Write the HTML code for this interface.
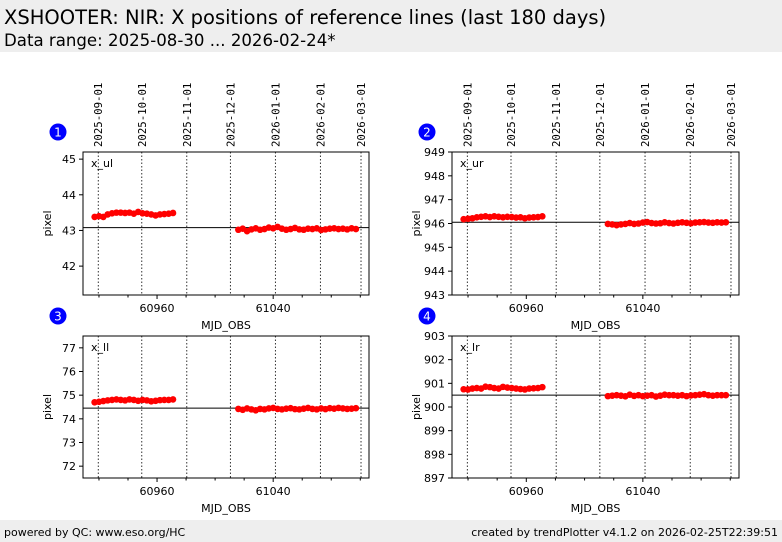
<!DOCTYPE html>
<html><head><meta charset="utf-8"><style>
body{margin:0;width:782px;height:542px;background:#fff;font-family:"DejaVu Sans","Liberation Sans",sans-serif;overflow:hidden;position:relative}
#hdr{position:absolute;left:0;top:0;width:782px;height:52px;background:#eeeeee}
#t1{position:absolute;left:4px;top:6px;font-size:19.5px;color:#000}
#t2{position:absolute;left:4px;top:31px;font-size:16.6px;color:#000}
#ftr{position:absolute;left:0;top:520px;width:782px;height:22px;background:#eeeeee;font-size:11px}
#fl{position:absolute;left:4px;top:6px}#fr{position:absolute;right:4px;top:6px}
svg{position:absolute;left:0;top:0}
</style></head><body>
<div id="hdr"><div id="t1">XSHOOTER: NIR: X positions of reference lines (last 180 days)</div><div id="t2">Data range: 2025-08-30 ... 2026-02-24*</div></div>
<div id="ftr"><span id="fl">powered by QC: www.eso.org/HC</span><span id="fr">created by trendPlotter v4.1.2 on 2026-02-25T22:39:51</span></div>
<svg id="chart" width="782" height="542" xmlns="http://www.w3.org/2000/svg"></svg>
<script>
const mjd1=[60917,60920,60923,60926,60929,60932,60935,60938,60941,60944,60947,60950,60953,60956,60959,60962,60965,60968,60971];
const mjd2=[61016,61019,61022,61025,61028,61031,61034,61037,61040,61043,61046,61049,61052,61055,61058,61061,61064,61067,61070,61073,61076,61079,61082,61085,61088,61091,61094,61097];
const ul1=[43.38,43.4,43.38,43.45,43.48,43.5,43.5,43.49,43.5,43.47,43.52,43.48,43.47,43.45,43.42,43.45,43.46,43.47,43.49];
const ul2=[43.02,43.05,42.98,43.03,43.06,43.02,43.04,43.08,43.06,43.1,43.05,43.02,43.04,43.07,43.03,43.02,43.05,43.04,43.06,43.01,43.03,43.05,43.06,43.04,43.05,43.03,43.06,43.04];
const ur1=[946.18,946.2,946.22,946.26,946.28,946.3,946.27,946.3,946.28,946.26,946.28,946.27,946.25,946.26,946.22,946.25,946.26,946.27,946.3];
const ur2=[945.98,945.96,945.93,945.96,945.98,946.02,945.98,946.0,946.04,946.06,946.02,946.0,946.01,946.05,946.02,946.0,946.03,946.05,946.03,946.01,946.04,946.05,946.06,946.04,946.03,946.05,946.04,946.05];
const ll1=[74.7,74.72,74.75,74.78,74.8,74.82,74.8,74.78,74.82,74.8,74.76,74.8,74.78,74.74,74.76,74.79,74.8,74.8,74.82];
const ll2=[74.42,74.38,74.44,74.4,74.36,74.42,74.4,74.44,74.46,74.42,74.4,74.43,74.45,74.41,74.4,74.43,74.46,74.42,74.4,74.44,74.41,74.45,74.43,74.46,74.44,74.42,74.43,74.45];
const lr1=[900.75,900.74,900.78,900.8,900.78,900.86,900.84,900.8,900.78,900.85,900.82,900.8,900.78,900.76,900.74,900.78,900.79,900.8,900.84];
const lr2=[900.46,900.48,900.5,900.48,900.45,900.52,900.47,900.5,900.46,900.48,900.5,900.44,900.48,900.52,900.5,900.5,900.48,900.5,900.46,900.49,900.5,900.52,900.54,900.5,900.48,900.5,900.5,900.5];
const refs=[43.08,946.05,74.45,900.5];
const names=["x_ul","x_ur","x_ll","x_lr"];
const yRanges=[[41.19,45.2],[943,949],[71.5,77.5],[897,903]];
const yTicks=[[42,43,44,45],[943,944,945,946,947,948,949],[72,73,74,75,76,77],[897,898,899,900,901,902,903]];
const xTicksMajor=[60960,61040];
const xTicksMinor=[60920,60940,60980,61000,61020,61060,61080,61100];
const dateLabels=["2025-09-01","2025-10-01","2025-11-01","2025-12-01","2026-01-01","2026-02-01","2026-03-01"];
const dateMjd=[60919.5,60949.5,60980.5,61010.5,61041.5,61072.5,61100.5];
const series=[[ul1,ul2],[ur1,ur2],[ll1,ll2],[lr1,lr2]];
const boxes=[[83,152,369,295],[452,152,739,295],[83,336,369,478],[452,336,739,478]];
const NS="http://www.w3.org/2000/svg";
const svg=document.getElementById('chart');
function mk(t,a,p){const e=document.createElementNS(NS,t);for(const k in a)e.setAttribute(k,a[k]);(p||svg).appendChild(e);return e;}
const X0=60909,X1=61106;
boxes.forEach((b,i)=>{
  const [L,T,R,B]=b;
  const g=mk('g',{});
  
  
  const xs=v=>L+(v-X0)/(X1-X0)*(R-L);
  const ys=v=>B-(v-yRanges[i][0])/(yRanges[i][1]-yRanges[i][0])*(B-T);
  dateMjd.forEach((d,j)=>{
    const x=xs(d);
    const l=mk('line',{x1:x,x2:x,y1:T,y2:B,stroke:'#000','stroke-width':0.8,'stroke-dasharray':'1.5,2'},g);
    
    
    if(i<2){
      const t=mk('text',{x:x+4,y:T-5,'font-size':10.7,'font-family':'DejaVu Sans Mono,Liberation Mono,monospace',transform:`rotate(-90 ${x+4} ${T-5})`},g);
      t.textContent=dateLabels[j];
      
      
    }
  });
  const rl=mk('line',{x1:L,x2:R,y1:ys(refs[i]),y2:ys(refs[i]),stroke:'#000','stroke-width':1},g);
  
  
  [mjd1,mjd2].forEach((m,s)=>{
    m.forEach((d,k)=>{
      const c=mk('circle',{cx:xs(d),cy:ys(series[i][s][k]),r:3.3,fill:'#ff0000'},g);
      
      
    });
  });
  const fr=mk('rect',{x:L,y:T,width:R-L,height:B-T,fill:'none',stroke:'#000','stroke-width':1},g);
  
  
  yTicks[i].forEach(v=>{
    const y=ys(v);
    mk('line',{x1:L-4,x2:L,y1:y,y2:y,stroke:'#000'},g);
    const t=mk('text',{x:L-7,y:y+4,'font-size':11,'text-anchor':'end'},g);
    t.textContent=v;
    
    
  });
  xTicksMinor.forEach(v=>{mk('line',{x1:xs(v),x2:xs(v),y1:B,y2:B+2.5,stroke:'#000'},g);});
  xTicksMajor.forEach(v=>{
    mk('line',{x1:xs(v),x2:xs(v),y1:B,y2:B+4,stroke:'#000'},g);
    const t=mk('text',{x:xs(v),y:B+17,'font-size':11,'text-anchor':'middle'},g);
    t.textContent=v;
    
    
  });
  const xt=mk('text',{x:(L+R)/2,y:B+34,'font-size':11,'text-anchor':'middle'},g);
  xt.textContent='MJD_OBS';
  
  
  const yt=mk('text',{x:L-32,y:(T+B)/2,'font-size':11,'text-anchor':'middle',transform:`rotate(-90 ${L-32} ${(T+B)/2})`},g);
  yt.textContent='pixel';
  
  
  const nm=mk('text',{x:L+8,y:T+15,'font-size':11},g);
  nm.textContent=names[i];
  
  
  const cx=L-25,cy=T-20;
  const bc=mk('circle',{cx:cx,cy:cy,r:8.5,fill:'#0000ff'},g);
  
  
  const bt=mk('text',{x:cx,y:cy+4.5,'font-size':12,fill:'#fff','text-anchor':'middle'},g);
  bt.textContent=String(i+1);
  
  
});
</script>
</body></html>
